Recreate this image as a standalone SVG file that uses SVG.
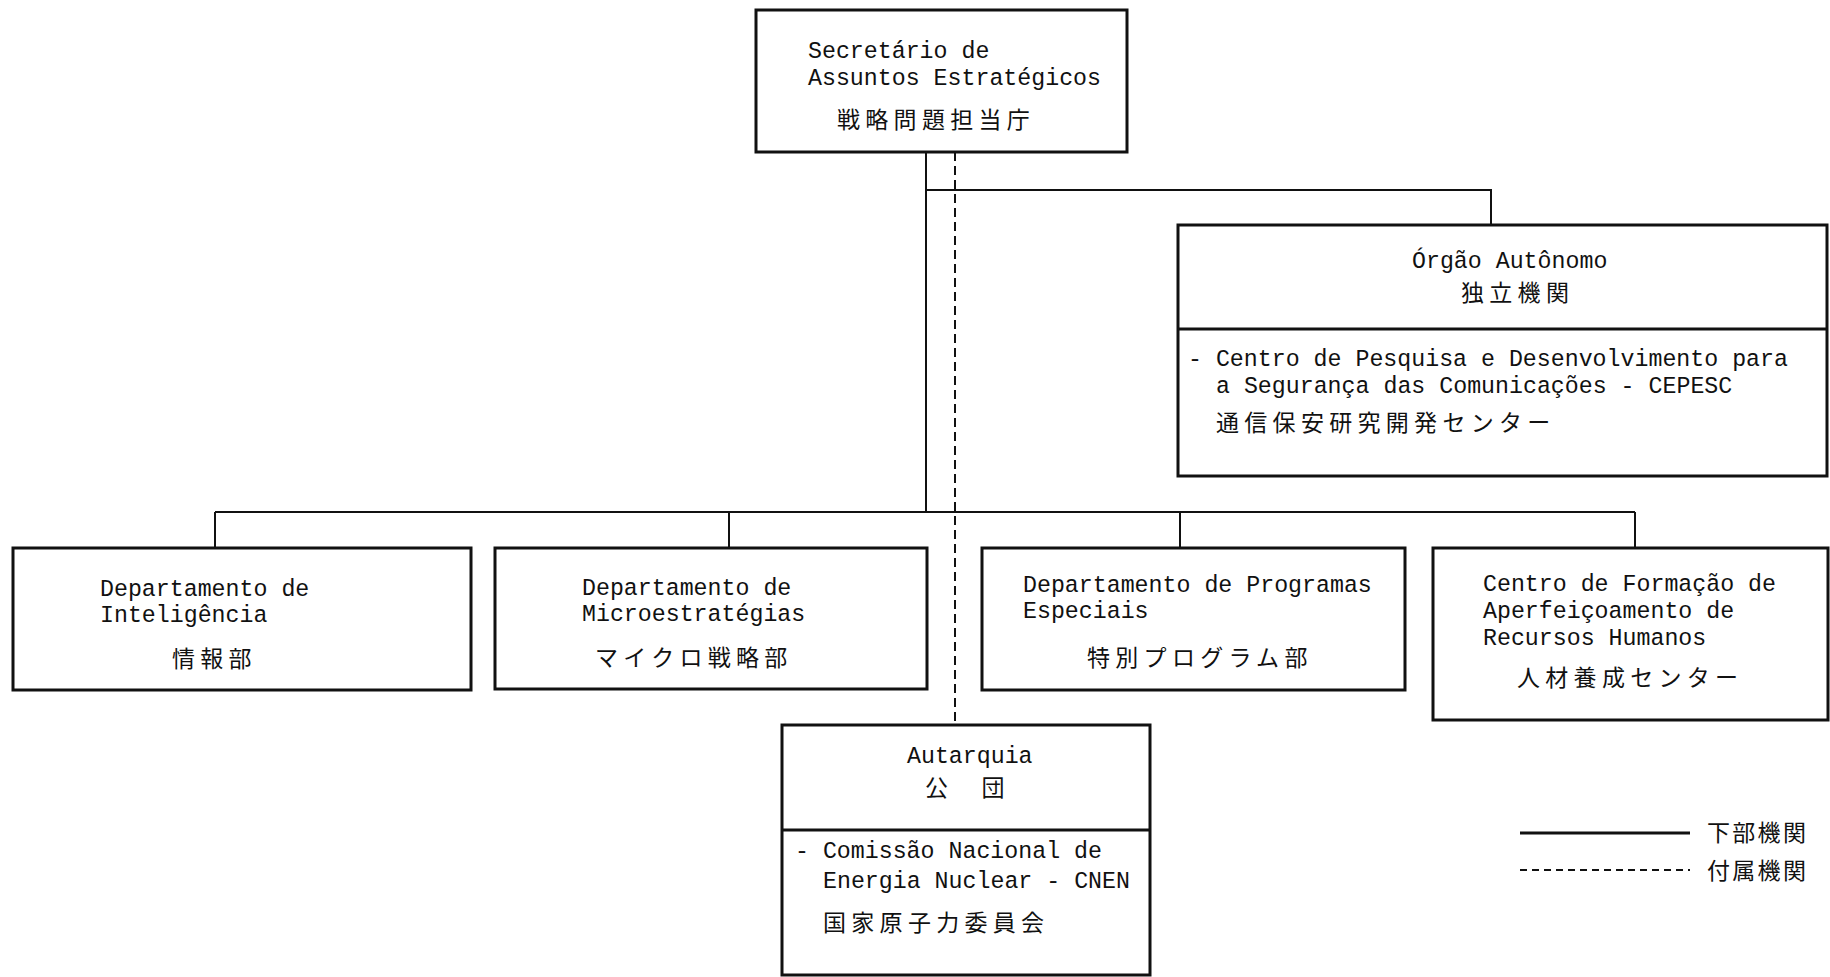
<svg xmlns="http://www.w3.org/2000/svg" width="1830" height="977" viewBox="0 0 1830 977">
<style>
.box{fill:#fff;stroke:#111;stroke-width:3}
.div{stroke:#111;stroke-width:3}
.ln{fill:none;stroke:#111;stroke-width:2}
.dash{fill:none;stroke:#111;stroke-width:2;stroke-dasharray:9 5}
.t{font-family:"Liberation Mono","DejaVu Sans Mono",monospace;font-size:23.25px;fill:#111}
.j{font-family:"Noto Sans CJK JP","Noto Sans CJK SC",sans-serif;font-size:23px;letter-spacing:5.3px;fill:#111}
.lg{font-family:"Noto Sans CJK JP","Noto Sans CJK SC",sans-serif;font-size:23px;letter-spacing:2.3px;fill:#111}
</style>
<rect width="1830" height="977" fill="#fff"/>
<g id="connectors">
<path class="ln" d="M926 152 V512 M926 190 H1491 V225 M215 512 H1635 M215 512 V548 M729 512 V548 M1180 512 V548 M1635 512 V548"/>
<path class="dash" d="M955 152 V725"/>
</g>
<g id="secretario">
<rect class="box" x="756" y="10" width="371" height="142"/>
<text class="t" x="808" y="58">Secretário de</text>
<text class="t" x="808" y="85">Assuntos Estratégicos</text>
<text class="j" x="837" y="128">戦略問題担当庁</text>
</g>
<g id="orgao">
<rect class="box" x="1178" y="225" width="649" height="251"/>
<line class="div" x1="1178" y1="329" x2="1827" y2="329"/>
<text class="t" x="1412" y="268">Órgão Autônomo</text>
<text class="j" x="1461" y="301">独立機関</text>
<text class="t" x="1188" y="366">- Centro de Pesquisa e Desenvolvimento para</text>
<text class="t" x="1216" y="393">a Segurança das Comunicações - CEPESC</text>
<text class="j" x="1216" y="431">通信保安研究開発センター</text>
</g>
<g id="inteligencia">
<rect class="box" x="13" y="548" width="458" height="142"/>
<text class="t" x="100" y="596">Departamento de</text>
<text class="t" x="100" y="622">Inteligência</text>
<text class="j" x="172" y="667">情報部</text>
</g>
<g id="microestrategias">
<rect class="box" x="495" y="548" width="432" height="141"/>
<text class="t" x="582" y="595">Departamento de</text>
<text class="t" x="582" y="621">Microestratégias</text>
<text class="j" x="595" y="666">マイクロ戦略部</text>
</g>
<g id="programas">
<rect class="box" x="982" y="548" width="423" height="142"/>
<text class="t" x="1023" y="592">Departamento de Programas</text>
<text class="t" x="1023" y="618">Especiais</text>
<text class="j" x="1087" y="666">特別プログラム部</text>
</g>
<g id="formacao">
<rect class="box" x="1433" y="548" width="395" height="172"/>
<text class="t" x="1483" y="591">Centro de Formação de</text>
<text class="t" x="1483" y="618">Aperfeiçoamento de</text>
<text class="t" x="1483" y="645">Recursos Humanos</text>
<text class="j" x="1517" y="686">人材養成センター</text>
</g>
<g id="autarquia">
<rect class="box" x="782" y="725" width="368" height="250"/>
<line class="div" x1="782" y1="830" x2="1150" y2="830"/>
<text class="t" x="907" y="763">Autarquia</text>
<text class="j" x="925" y="796">公　団</text>
<text class="t" x="795" y="858">- Comissão Nacional de</text>
<text class="t" x="823" y="888">Energia Nuclear - CNEN</text>
<text class="j" x="823" y="931">国家原子力委員会</text>
</g>
<g id="legend">
<line x1="1520" y1="833" x2="1690" y2="833" stroke="#111" stroke-width="3"/>
<line class="dash" x1="1520" y1="870" x2="1690" y2="870" style="stroke-dasharray:7 5"/>
<text class="lg" x="1707" y="841">下部機関</text>
<text class="lg" x="1707" y="879">付属機関</text>
</g>
</svg>
